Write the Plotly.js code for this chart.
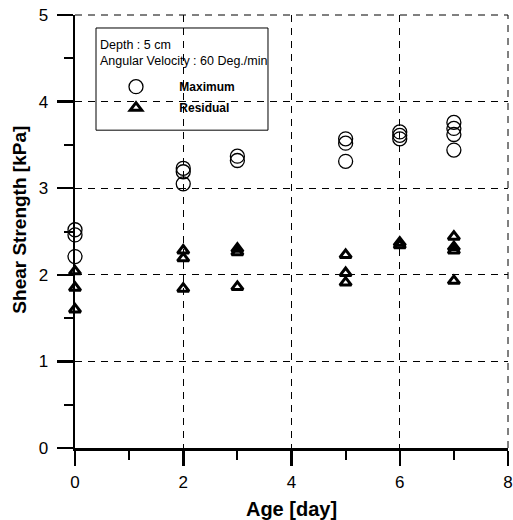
<!DOCTYPE html>
<html>
<head>
<meta charset="utf-8">
<script src="https://cdn.plot.ly/plotly-3.0.1.min.js"></script>
<style>html,body{margin:0;padding:0;background:#fff;}#chart{width:513px;height:520px;}</style>
</head>
<body>
<div id="chart"></div>
<script>
// Age [day] and shear strength [kPa]
const maxDays = [0, 0, 0, 2, 2, 2, 3, 3, 5, 5, 5, 6, 6, 6, 7, 7, 7, 7];
const maxVals = [2.52, 2.46, 2.21, 3.23, 3.19, 3.05, 3.37, 3.32, 3.57, 3.52, 3.31, 3.65, 3.61, 3.57, 3.76, 3.69, 3.62, 3.44];
const resDays = [0, 0, 0, 2, 2, 2, 3, 3, 3, 5, 5, 5, 6, 6, 7, 7, 7, 7];
const resVals = [2.04, 1.85, 1.60, 2.28, 2.19, 1.84, 2.30, 2.26, 1.86, 2.23, 2.02, 1.91, 2.37, 2.34, 2.44, 2.32, 2.28, 1.93];
const seriesNames = ['Maximum', 'Residual'];
const legendTitle = 'Depth : 5 cm<br>Angular Velocity : 60 Deg./min';
const xTitle = 'Age [day]';
const yTitle = 'Shear Strength [kPa]';
const xTicks = [0, 2, 4, 6, 8];
const yTicks = [0, 1, 2, 3, 4, 5];

const font = 'Liberation Sans, Arial, Helvetica, sans-serif';
const gridDash = '7px,6px';

const traces = [
  {
    x: maxDays, y: maxVals, name: '\u00a0' + seriesNames[0], type: 'scatter', mode: 'markers',
    cliponaxis: false, legendgroup: 'a',
    marker: {symbol: 'circle-open', size: 14, color: '#000', line: {color: '#000', width: 1.3}}
  },
  {
    x: resDays, y: resVals, name: '\u00a0' + seriesNames[1], type: 'scatter', mode: 'markers',
    cliponaxis: false, legendgroup: 'b',
    marker: {symbol: 'triangle-up-open', size: 10, color: '#000', line: {color: '#000', width: 3}}
  }
];

const axisCommon = {
  showline: true, linecolor: '#000', linewidth: 2.5,
  ticks: 'outside', tickwidth: 2.5, tickcolor: '#000',
  showgrid: true, gridcolor: '#000', gridwidth: 1, griddash: gridDash,
  zeroline: false, mirror: false,
  tickfont: {family: font, size: 17, color: '#000'}
};

const layout = {
  width: 513, height: 520,
  margin: {l: 75, r: 5, t: 15, b: 72},
  paper_bgcolor: '#fff', plot_bgcolor: '#fff',
  showlegend: true,
  legend: {
    x: 0.0485, y: 0.868, xanchor: 'left', yanchor: 'top',
    bgcolor: 'rgba(0,0,0,0)', borderwidth: 0,
    font: {family: font, size: 12, color: '#000', weight: 'bold'},
    itemwidth: 70, tracegroupgap: 2
  },
  shapes: [
    {
      type: 'rect', xref: 'paper', yref: 'paper',
      x0: 0.0485, x1: 0.4457, y0: 0.734, y1: 0.970,
      line: {color: '#000', width: 1}, fillcolor: '#fff', layer: 'below'
    },
    {
      type: 'line', xref: 'paper', yref: 'paper', x0: 0, x1: 1, y0: 1, y1: 1,
      line: {color: '#000', width: 1, dash: gridDash}, layer: 'below'
    },
    {
      type: 'line', xref: 'paper', yref: 'paper', x0: 1, x1: 1, y0: 0, y1: 1,
      line: {color: '#000', width: 1, dash: gridDash}, layer: 'below'
    }
  ],
  annotations: [
    {
      text: legendTitle, xref: 'paper', yref: 'paper', x: 0.054, y: 0.952,
      xanchor: 'left', yanchor: 'top', align: 'left', showarrow: false,
      font: {family: font, size: 12.5, color: '#000'}
    },
    {
      text: yTitle, xref: 'paper', yref: 'paper', x: -0.129, y: 0.5277,
      xanchor: 'center', yanchor: 'middle', textangle: -90, showarrow: false,
      font: {family: font, size: 19, color: '#000', weight: 'bold'}
    }
  ],
  xaxis: Object.assign({}, axisCommon, {
    range: [0, 8], tickvals: xTicks, ticktext: xTicks.map(String),
    ticklen: 15, ticklabelstandoff: 2,
    minor: {dtick: 1, tick0: 0, ticks: 'outside', ticklen: 9, tickwidth: 2, tickcolor: '#000', showgrid: false},
    title: {text: xTitle, font: {family: font, size: 20, color: '#000', weight: 'bold'}, standoff: 12}
  }),
  yaxis: Object.assign({}, axisCommon, {
    range: [0, 5], tickvals: yTicks, ticktext: yTicks.map(String),
    ticklen: 16, ticklabelstandoff: 5,
    minor: {dtick: 0.5, tick0: 0, ticks: 'outside', ticklen: 9, tickwidth: 2, tickcolor: '#000', showgrid: false}
  })
};

Plotly.newPlot('chart', traces, layout, {staticPlot: true, displayModeBar: false});
</script>
</body>
</html>
